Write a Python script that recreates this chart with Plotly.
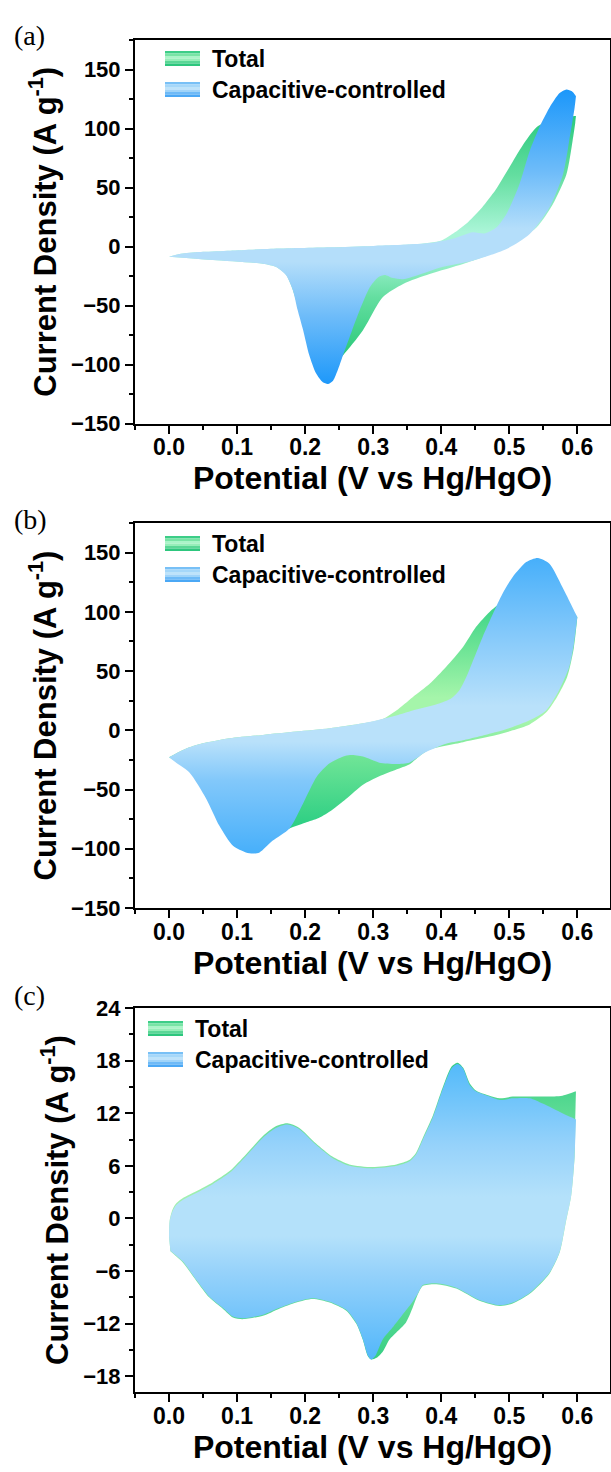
import plotly.graph_objects as go

# ---------------- data ----------------
# Panel (a)
A_blue_fwd_V = [0.0, 0.02, 0.05, 0.09, 0.15, 0.236, 0.30, 0.383, 0.42, 0.446, 0.464, 0.481, 0.496, 0.515, 0.53, 0.544, 0.559, 0.574, 0.584, 0.592, 0.598]
A_blue_fwd_I = [-8.6, -6.0, -4.5, -3.5, -2.0, -0.7, 0.5, 2.9, 7.0, 12.0, 11.0, 16.0, 27.7, 53.0, 81.0, 100.7, 117.6, 130.0, 133.0, 131.5, 127.4]
A_blue_rev_V = [0.598, 0.596, 0.588, 0.579, 0.559, 0.53, 0.496, 0.446, 0.40, 0.364, 0.344, 0.329, 0.317, 0.307, 0.295, 0.280, 0.268, 0.2555, 0.248, 0.241, 0.2335, 0.226, 0.216, 0.206, 0.197, 0.189, 0.182, 0.172, 0.1575, 0.138, 0.0645, 0.02]
A_blue_rev_I = [127.4, 117.6, 89.4, 61.3, 33.0, 10.6, -2.1, -12.0, -17.5, -24.5, -27.7, -26.8, -24.2, -26.2, -34.6, -54.3, -72.6, -92.3, -104.7, -113.7, -116.5, -115.1, -107.5, -92.0, -70.8, -53.9, -37.0, -24.4, -17.4, -14.6, -11.4, -9.5]
A_green_fwd_V = [0.0, 0.02, 0.05, 0.09, 0.15, 0.236, 0.30, 0.36, 0.38, 0.40, 0.42, 0.44, 0.46, 0.48, 0.50, 0.52, 0.54, 0.56, 0.58, 0.598]
A_green_fwd_I = [-8.6, -6.0, -4.5, -3.5, -2.0, -0.7, 0.5, 2.0, 3.0, 5.0, 12.0, 21.0, 33.0, 48.0, 67.0, 86.0, 101.0, 107.0, 109.5, 110.5]
A_green_rev_V = [0.598, 0.597, 0.593, 0.584, 0.564, 0.54, 0.505, 0.461, 0.432, 0.383, 0.344, 0.314, 0.285, 0.2555, 0.24, 0.225, 0.21, 0.195, 0.182, 0.172, 0.1575, 0.138, 0.0645, 0.02]
A_green_rev_I = [110.5, 105.0, 89.4, 61.3, 35.9, 16.1, 2.1, -9.2, -14.8, -23.3, -31.7, -43.0, -71.0, -92.3, -100.0, -98.0, -85.0, -62.0, -37.0, -24.0, -17.4, -14.6, -11.4, -9.5]

# Panel (b)
B_blue_fwd_V = [0.0, 0.0204, 0.0401, 0.089, 0.138, 0.187, 0.236, 0.285, 0.334, 0.358, 0.398, 0.415, 0.427, 0.437, 0.451, 0.461, 0.476, 0.49, 0.505, 0.525, 0.542, 0.559, 0.578, 0.600]
B_blue_fwd_I = [-22.8, -16.6, -12.4, -6.8, -3.9, -1.1, 1.7, 5.9, 12.5, 16.7, 22.8, 27.0, 34.0, 45.2, 64.9, 79.0, 98.4, 115.3, 129.4, 142.0, 145.4, 140.6, 121.0, 95.6]
B_blue_rev_V = [0.600, 0.595, 0.588, 0.573, 0.554, 0.530, 0.505, 0.481, 0.432, 0.407, 0.383, 0.373, 0.363, 0.353, 0.334, 0.309, 0.285, 0.266, 0.256, 0.236, 0.217, 0.197, 0.177, 0.152, 0.133, 0.123, 0.113, 0.094, 0.074, 0.055, 0.030, 0.012]
B_blue_rev_I = [95.6, 73.1, 53.4, 33.7, 16.8, 8.4, 2.8, -1.4, -8.4, -11.3, -16.9, -19.7, -23.9, -27.3, -28.4, -27.3, -22.2, -20.9, -22.2, -27.9, -39.2, -61.7, -82.8, -93.3, -103.1, -104.0, -103.1, -97.5, -80.6, -58.1, -35.6, -28.0]
B_green_fwd_V = [0.0, 0.0204, 0.0401, 0.089, 0.138, 0.187, 0.236, 0.285, 0.314, 0.334, 0.358, 0.383, 0.407, 0.432, 0.451, 0.471, 0.486, 0.50, 0.52, 0.54, 0.56, 0.58, 0.600]
B_green_fwd_I = [-22.8, -16.6, -12.4, -6.8, -3.9, -1.1, 1.7, 5.9, 9.5, 16.7, 28.0, 39.3, 53.4, 70.3, 87.2, 99.9, 107.0, 112.0, 118.0, 120.0, 116.0, 108.0, 95.6]
B_green_rev_V = [0.600, 0.595, 0.585, 0.570, 0.554, 0.530, 0.505, 0.481, 0.432, 0.383, 0.368, 0.353, 0.334, 0.309, 0.285, 0.260, 0.240, 0.220, 0.200, 0.177, 0.150, 0.120, 0.090, 0.060, 0.030]
B_green_rev_I = [95.6, 70.0, 45.0, 28.0, 15.0, 5.0, 0.0, -4.0, -10.0, -16.3, -21.9, -28.9, -33.1, -38.8, -45.9, -58.0, -67.0, -74.0, -78.0, -82.8, -90.0, -95.0, -85.0, -55.0, -33.0]

# Panel (c)
C_blue_fwd_V = [0.0, 0.001, 0.005, 0.011, 0.020, 0.040, 0.064, 0.089, 0.113, 0.138, 0.157, 0.174, 0.191, 0.216, 0.240, 0.265, 0.299, 0.334, 0.353, 0.363, 0.373, 0.388, 0.402, 0.415, 0.424, 0.432, 0.442, 0.451, 0.471, 0.486, 0.505, 0.530, 0.549, 0.578, 0.598]
C_blue_fwd_I = [-2.0, -0.3, 0.8, 1.55, 2.1, 2.9, 3.9, 5.2, 7.1, 9.2, 10.3, 10.7, 10.2, 8.4, 6.9, 6.0, 5.7, 6.0, 6.5, 7.3, 9.0, 11.6, 14.7, 17.1, 17.6, 17.1, 15.2, 14.5, 13.9, 13.5, 13.7, 13.7, 13.1, 12.0, 11.3]
C_blue_rev_V = [0.598, 0.596, 0.591, 0.583, 0.574, 0.559, 0.530, 0.505, 0.486, 0.456, 0.422, 0.393, 0.373, 0.366, 0.358, 0.345, 0.330, 0.314, 0.303, 0.297, 0.292, 0.285, 0.275, 0.260, 0.236, 0.211, 0.187, 0.162, 0.138, 0.108, 0.094, 0.079, 0.059, 0.040, 0.020, 0.008, 0.002]
C_blue_rev_I = [11.3, 7.1, 2.6, -0.4, -3.8, -6.2, -8.5, -9.6, -9.9, -9.3, -7.9, -7.4, -7.6, -8.5, -9.5, -10.8, -12.3, -13.8, -15.7, -16.1, -15.6, -13.8, -11.9, -10.4, -9.5, -9.1, -9.5, -10.2, -11.0, -11.4, -11.2, -10.2, -8.9, -7.0, -4.9, -4.1, -3.7]
C_green_fwd_V = [0.0, 0.001, 0.005, 0.011, 0.020, 0.040, 0.064, 0.089, 0.113, 0.138, 0.157, 0.174, 0.191, 0.216, 0.240, 0.265, 0.299, 0.334, 0.353, 0.363, 0.373, 0.388, 0.402, 0.415, 0.424, 0.432, 0.442, 0.451, 0.471, 0.486, 0.505, 0.530, 0.554, 0.578, 0.598]
C_green_fwd_I = [-2.0, -0.2, 1.0, 1.75, 2.3, 3.1, 4.1, 5.4, 7.3, 9.4, 10.5, 10.85, 10.35, 8.55, 7.05, 6.15, 5.85, 6.15, 6.65, 7.5, 9.2, 11.8, 14.9, 17.3, 17.75, 17.2, 15.4, 14.6, 14.0, 13.7, 13.9, 13.9, 13.9, 14.0, 14.5]
C_green_rev_V = [0.598, 0.597, 0.596, 0.591, 0.583, 0.574, 0.559, 0.530, 0.505, 0.486, 0.456, 0.422, 0.393, 0.373, 0.366, 0.358, 0.348, 0.334, 0.324, 0.314, 0.305, 0.297, 0.292, 0.285, 0.275, 0.260, 0.236, 0.211, 0.187, 0.162, 0.138, 0.108, 0.094, 0.079, 0.059, 0.040, 0.020, 0.008, 0.002]
C_green_rev_I = [14.5, 11.0, 7.1, 2.6, -0.5, -3.9, -6.3, -8.6, -9.7, -10.0, -9.4, -8.0, -7.5, -7.7, -8.6, -10.2, -11.9, -13.0, -13.8, -15.2, -15.9, -16.1, -15.7, -13.9, -12.0, -10.5, -9.6, -9.2, -9.6, -10.3, -11.1, -11.5, -11.3, -10.3, -9.0, -7.1, -5.0, -4.15, -3.75]

series_names = ["Total", "Capacitive-controlled"]
panel_labels = ["(a)", "(b)", "(c)"]
x_ticks = [0.0, 0.1, 0.2, 0.3, 0.4, 0.5, 0.6]
y_ranges = [[-150, 175], [-150, 175], [-19.8, 24]]
y_dticks = [50, 50, 6]
x_title = "Potential (V vs Hg/HgO)"
y_title = "Current Density (A g<sup>-1</sup>)"

# ---------------- styling ----------------
W, H = 611, 1472
ML, MR, MT, MB = 135, 1, 40, 80
PW, PH = W - ML - MR, H - MT - MB
FONT = "Liberation Sans"


def px_x(px):
    return (px - ML) / PW


def px_y(py):
    return (H - MB - py) / PH


def cscale(stops):
    return [[f, "rgb(%d,%d,%d)" % c] for f, c in stops]


BLUE_A = cscale([(0, (25, 150, 250)), (0.24, (110, 188, 249)), (0.42, (180, 222, 250)),
                 (0.53, (180, 222, 250)), (0.72, (110, 188, 249)), (1, (25, 150, 250))])
GREEN_A = cscale([(0, (40, 200, 120)), (0.25, (100, 222, 160)), (0.44, (170, 245, 215)),
                  (0.52, (170, 245, 215)), (0.75, (100, 222, 160)), (1, (40, 200, 125))])
BLUE_B = cscale([(0, (70, 175, 250)), (0.25, (130, 200, 250)), (0.38, (185, 225, 250)),
                 (0.5, (185, 225, 250)), (0.75, (130, 200, 250)), (1, (70, 175, 250))])
GREEN_B = cscale([(0, (40, 205, 130)), (0.3, (110, 228, 150)), (0.45, (165, 245, 170)),
                  (0.55, (165, 245, 170)), (0.75, (110, 228, 150)), (1, (40, 205, 130))])
BLUE_C = cscale([(0, (80, 182, 250)), (0.3, (150, 210, 250)), (0.42, (180, 225, 250)),
                 (0.55, (180, 225, 250)), (0.72, (150, 210, 250)), (1, (80, 185, 250))])
GREEN_C = cscale([(0, (50, 205, 130)), (0.3, (120, 228, 160)), (0.45, (160, 240, 175)),
                  (0.55, (160, 240, 175)), (0.72, (120, 228, 160)), (1, (50, 205, 130))])

panels = [
    dict(green=(A_green_fwd_V + A_green_rev_V, A_green_fwd_I + A_green_rev_I),
         blue=(A_blue_fwd_V + A_blue_rev_V, A_blue_fwd_I + A_blue_rev_I),
         gscale=GREEN_A, bscale=BLUE_A, grange=(-95, 112), brange=(-120, 135)),
    dict(green=(B_green_fwd_V + B_green_rev_V, B_green_fwd_I + B_green_rev_I),
         blue=(B_blue_fwd_V + B_blue_rev_V, B_blue_fwd_I + B_blue_rev_I),
         gscale=GREEN_B, bscale=BLUE_B, grange=(-85, 120), brange=(-105, 146)),
    dict(green=(C_green_fwd_V + C_green_rev_V, C_green_fwd_I + C_green_rev_I),
         blue=(C_blue_fwd_V + C_blue_rev_V, C_blue_fwd_I + C_blue_rev_I),
         gscale=GREEN_C, bscale=BLUE_C, grange=(-16.5, 18), brange=(-16.5, 18)),
]

# pixel layout of the three plot boxes (top, bottom)
boxes = [(40, 423.5), (523, 908), (1008, 1392)]
legend_px = [  # (swatch left, swatch right, green top, blue top, text x)
    (165, 200, 51, 82, 210),
    (165, 200, 536, 567, 210),
    (148, 183, 1021, 1052, 193),
]
label_y = [35, 519, 996]

fig = go.Figure()
layout = dict(
    width=W, height=H, margin=dict(l=ML, r=MR, t=MT, b=MB),
    paper_bgcolor="white", plot_bgcolor="white", showlegend=False,
    font=dict(family=FONT, color="black"),
    shapes=[], annotations=[],
)

green_strips = [(60, 205, 135), (120, 228, 165), (170, 244, 200), (150, 238, 185), (90, 215, 150), (45, 198, 125)]
blue_strips = [(120, 192, 246), (165, 215, 249), (190, 227, 250), (160, 212, 249), (110, 186, 247), (75, 168, 245)]

for i, p in enumerate(panels):
    xa = "x" if i == 0 else "x%d" % (i + 1)
    ya = "y" if i == 0 else "y%d" % (i + 1)
    for key, scale, rng, name in (("green", p["gscale"], p["grange"], series_names[0]),
                                  ("blue", p["bscale"], p["brange"], series_names[1])):
        xs, ys = p[key]
        fig.add_trace(go.Scatter(
            x=xs, y=ys, name=name, mode="lines", fill="toself",
            line=dict(width=0, shape="spline", smoothing=0.7),
            fillgradient=dict(type="vertical", colorscale=scale, start=rng[0], stop=rng[1]),
            hoverinfo="skip", xaxis=xa, yaxis=ya,
        ))
    top, bot = boxes[i]
    dom = [px_y(bot), px_y(top)]
    axis_common = dict(showline=True, linewidth=2, linecolor="black", mirror=True,
                       showgrid=False, zeroline=False, ticks="outside", ticklen=8,
                       tickwidth=2, tickcolor="black", automargin=False)
    layout["xaxis" if i == 0 else "xaxis%d" % (i + 1)] = dict(
        axis_common, domain=[0, 1], range=[-0.05, 0.648], anchor=ya,
        tickvals=x_ticks, ticktext=["%.1f" % v for v in x_ticks],
        tickfont=dict(family=FONT, size=23, weight="bold", color="black"),
        ticklabelstandoff=-6,
        minor=dict(ticks="outside", ticklen=4, tickwidth=2, tickcolor="black", dtick=0.05, tick0=0),
        title=dict(text=x_title, font=dict(family=FONT, size=32, weight="bold", color="black"), standoff=8),
    )
    layout["yaxis" if i == 0 else "yaxis%d" % (i + 1)] = dict(
        axis_common, domain=dom, range=y_ranges[i], anchor=xa,
        tick0=0, dtick=y_dticks[i],
        tickfont=dict(family=FONT, size=22, weight="bold", color="black"),
        minor=dict(ticks="outside", ticklen=4, tickwidth=2, tickcolor="black", dtick=y_dticks[i] / 2, tick0=0),
        title=dict(text=y_title, font=dict(family=FONT, size=31, weight="bold", color="black"), standoff=5),
    )

    # legend (drawn as swatches + text)
    sl, sr, gt, bt, tx = legend_px[i]
    for top_px, strips in ((gt, green_strips), (bt, blue_strips)):
        h = 15 / len(strips)
        for k, c in enumerate(strips):
            layout["shapes"].append(dict(
                type="rect", xref="paper", yref="paper",
                x0=px_x(sl), x1=px_x(sr), y0=px_y(top_px + (k + 1) * h), y1=px_y(top_px + k * h),
                fillcolor="rgb(%d,%d,%d)" % c, line=dict(width=0), layer="above"))
    for top_px, name in ((gt, series_names[0]), (bt, series_names[1])):
        layout["annotations"].append(dict(
            text=name, xref="paper", yref="paper", x=px_x(tx), y=px_y(top_px + 7.5),
            xanchor="left", yanchor="middle", showarrow=False,
            font=dict(family=FONT, size=23, weight="bold", color="black")))
    layout["annotations"].append(dict(
        text=panel_labels[i], xref="paper", yref="paper", x=px_x(12), y=px_y(label_y[i]),
        xanchor="left", yanchor="middle", showarrow=False,
        font=dict(family="Liberation Serif", size=28, color="black")))

fig.update_layout(**layout)
fig.write_html("out.html")
